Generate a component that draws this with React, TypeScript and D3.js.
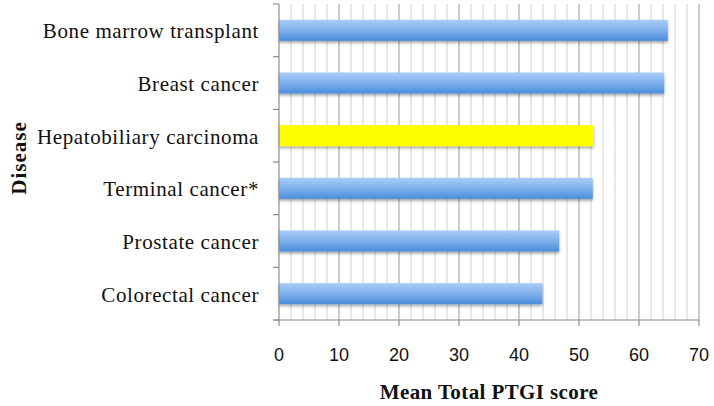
import React from "react";
import * as d3 from "d3";

const categories = [
  "Bone marrow transplant",
  "Breast cancer",
  "Hepatobiliary carcinoma",
  "Terminal cancer*",
  "Prostate cancer",
  "Colorectal cancer",
];
const values = [64.8, 64.2, 52.5, 52.3, 46.7, 43.9];
const highlighted = ["Hepatobiliary carcinoma"];
const xTicks = [0, 10, 20, 30, 40, 50, 60, 70];
const xTitle = "Mean Total PTGI score";
const yTitle = "Disease";

export default function App() {
  const W = 714, H = 406;
  const left = 279, right = 699, top = 4, bottom = 320;
  const x = d3.scaleLinear().domain([0, 70]).range([left, right]);
  const y = d3.scaleBand().domain(categories).range([top, bottom]).paddingInner(0.6).paddingOuter(0.3);
  const yb = d3.scaleBand().domain(categories).range([top, bottom]);
  const minor = d3.range(2, 71, 2).filter((v) => v % 10 !== 0);
  const major = xTicks.filter((v) => v > 0);
  return (
    <svg width={W} height={H} style={{ position: "absolute", left: 0, top: 0, background: "#fff" }}>
      <defs>
        <linearGradient id="blue" x1="0" y1="0" x2="0" y2="1">
          <stop offset="0" stopColor="#a9cdf6" />
          <stop offset="0.5" stopColor="#7fb0ec" />
          <stop offset="1" stopColor="#4a8ddc" />
        </linearGradient>
        <filter id="shadow" x="-5%" y="-30%" width="110%" height="180%">
          <feGaussianBlur in="SourceAlpha" stdDeviation="1.5" />
          <feOffset dx="0" dy="2" result="b" />
          <feComponentTransfer><feFuncA type="linear" slope="0.35" /></feComponentTransfer>
          <feMerge><feMergeNode /><feMergeNode in="SourceGraphic" /></feMerge>
        </filter>
      </defs>
      {minor.map((v) => (
        <line key={"m" + v} x1={x(v)} x2={x(v)} y1={top} y2={bottom} stroke="#d0d0d0" strokeWidth={1} />
      ))}
      {major.map((v) => (
        <line key={"M" + v} x1={x(v)} x2={x(v)} y1={top} y2={bottom} stroke="#9a9a9a" strokeWidth={1} />
      ))}
      {categories.map((c, i) => (
        <rect
          key={c}
          x={x(0)}
          y={y(c)!}
          width={x(values[i]) - x(0)}
          height={y.bandwidth()}
          fill={highlighted.includes(c) ? "#ffff00" : "url(#blue)"}
          filter="url(#shadow)"
        />
      ))}
      {/* y axis */}
      <line x1={left} x2={left} y1={top} y2={bottom} stroke="#8c8c8c" strokeWidth={1.2} />
      {[...categories.map((c) => yb(c)!), bottom].map((v, i) => (
        <line key={"yt" + i} x1={left - 6} x2={left} y1={v} y2={v} stroke="#8c8c8c" strokeWidth={1.2} />
      ))}
      {/* x axis */}
      <line x1={left - 6} x2={right} y1={bottom} y2={bottom} stroke="#8c8c8c" strokeWidth={1.2} />
      {xTicks.map((v) => (
        <line key={"xt" + v} x1={x(v)} x2={x(v)} y1={bottom} y2={bottom + 6} stroke="#8c8c8c" strokeWidth={1.2} />
      ))}
      {xTicks.map((v) => (
        <text key={"xl" + v} x={x(v)} y={361} textAnchor="middle" fontFamily="Liberation Sans, Arial, sans-serif" fontSize={18} fill="#111">
          {v}
        </text>
      ))}
      {categories.map((c) => (
        <text key={"yl" + c} x={259} y={yb(c)! + yb.bandwidth() / 2 + 8} textAnchor="end" fontFamily="Liberation Serif, serif" fontSize={21} letterSpacing={0.6} fill="#111">
          {c}
        </text>
      ))}
      <text x={489} y={399} textAnchor="middle" fontFamily="Liberation Serif, serif" fontWeight="bold" fontSize={21} letterSpacing={0.4} fill="#111">
        {xTitle}
      </text>
      <text transform={`translate(26,158) rotate(-90)`} textAnchor="middle" fontFamily="Liberation Serif, serif" fontWeight="bold" fontSize={21} letterSpacing={1} fill="#111">
        {yTitle}
      </text>
    </svg>
  );
}
